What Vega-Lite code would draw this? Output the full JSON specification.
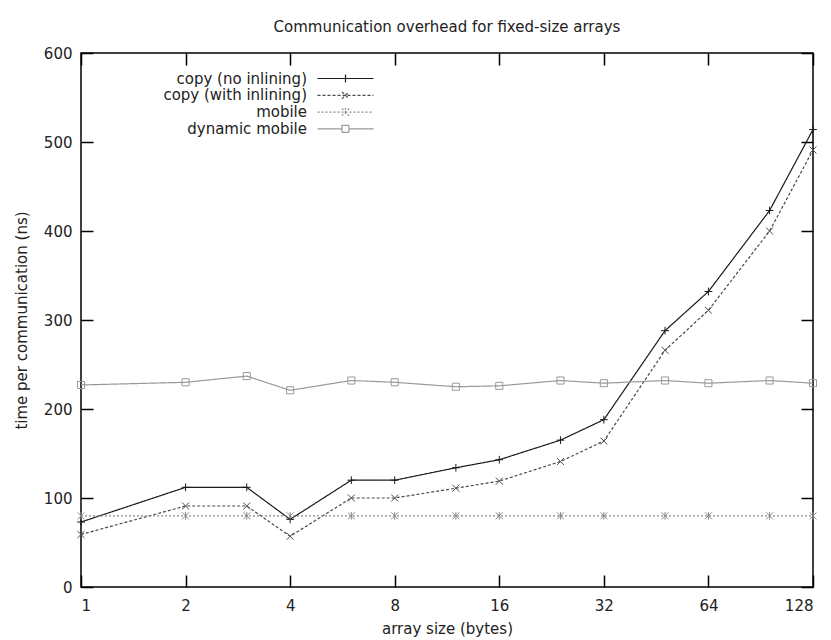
{
  "$schema": "https://vega.github.io/schema/vega-lite/v6.json",
  "width": 732,
  "height": 534,
  "autosize": "none",
  "padding": {"left": 81, "top": 53, "right": 18, "bottom": 53},
  "background": "white",
  "config": {
    "font": "DejaVu Sans",
    "view": {"stroke": "#000", "strokeWidth": 1.5},
    "axis": {"grid": false, "domain": false, "tickColor": "#000", "tickWidth": 1.5, "tickSize": -12, "labelPadding": 21, "labelFontSize": 15, "labelColor": "#222", "labelFont": "DejaVu Sans", "titleFontSize": 15, "titleFontWeight": "normal", "titleColor": "#222", "titleFont": "DejaVu Sans"}
  },
  "title": {"text": "Communication overhead for fixed-size arrays", "fontSize": 15, "fontWeight": "normal", "color": "#222", "font": "DejaVu Sans", "offset": 11, "anchor": "middle"},
  "data": {"values": [
    {"series": "copy (no inlining)", "bytes": 1, "time": 73},
    {"series": "copy (no inlining)", "bytes": 2, "time": 112},
    {"series": "copy (no inlining)", "bytes": 3, "time": 112},
    {"series": "copy (no inlining)", "bytes": 4, "time": 76},
    {"series": "copy (no inlining)", "bytes": 6, "time": 120},
    {"series": "copy (no inlining)", "bytes": 8, "time": 120},
    {"series": "copy (no inlining)", "bytes": 12, "time": 134},
    {"series": "copy (no inlining)", "bytes": 16, "time": 143},
    {"series": "copy (no inlining)", "bytes": 24, "time": 165},
    {"series": "copy (no inlining)", "bytes": 32, "time": 188},
    {"series": "copy (no inlining)", "bytes": 48, "time": 288},
    {"series": "copy (no inlining)", "bytes": 64, "time": 332},
    {"series": "copy (no inlining)", "bytes": 96, "time": 423},
    {"series": "copy (no inlining)", "bytes": 128, "time": 514},
    {"series": "copy (with inlining)", "bytes": 1, "time": 59},
    {"series": "copy (with inlining)", "bytes": 2, "time": 91},
    {"series": "copy (with inlining)", "bytes": 3, "time": 91},
    {"series": "copy (with inlining)", "bytes": 4, "time": 57},
    {"series": "copy (with inlining)", "bytes": 6, "time": 100},
    {"series": "copy (with inlining)", "bytes": 8, "time": 100},
    {"series": "copy (with inlining)", "bytes": 12, "time": 111},
    {"series": "copy (with inlining)", "bytes": 16, "time": 119},
    {"series": "copy (with inlining)", "bytes": 24, "time": 141},
    {"series": "copy (with inlining)", "bytes": 32, "time": 164},
    {"series": "copy (with inlining)", "bytes": 48, "time": 266},
    {"series": "copy (with inlining)", "bytes": 64, "time": 311},
    {"series": "copy (with inlining)", "bytes": 96, "time": 400},
    {"series": "copy (with inlining)", "bytes": 128, "time": 491},
    {"series": "mobile", "bytes": 1, "time": 80},
    {"series": "mobile", "bytes": 2, "time": 80},
    {"series": "mobile", "bytes": 3, "time": 80},
    {"series": "mobile", "bytes": 4, "time": 80},
    {"series": "mobile", "bytes": 6, "time": 80},
    {"series": "mobile", "bytes": 8, "time": 80},
    {"series": "mobile", "bytes": 12, "time": 80},
    {"series": "mobile", "bytes": 16, "time": 80},
    {"series": "mobile", "bytes": 24, "time": 80},
    {"series": "mobile", "bytes": 32, "time": 80},
    {"series": "mobile", "bytes": 48, "time": 80},
    {"series": "mobile", "bytes": 64, "time": 80},
    {"series": "mobile", "bytes": 96, "time": 80},
    {"series": "mobile", "bytes": 128, "time": 80},
    {"series": "dynamic mobile", "bytes": 1, "time": 227},
    {"series": "dynamic mobile", "bytes": 2, "time": 230},
    {"series": "dynamic mobile", "bytes": 3, "time": 237},
    {"series": "dynamic mobile", "bytes": 4, "time": 221},
    {"series": "dynamic mobile", "bytes": 6, "time": 232},
    {"series": "dynamic mobile", "bytes": 8, "time": 230},
    {"series": "dynamic mobile", "bytes": 12, "time": 225},
    {"series": "dynamic mobile", "bytes": 16, "time": 226},
    {"series": "dynamic mobile", "bytes": 24, "time": 232},
    {"series": "dynamic mobile", "bytes": 32, "time": 229},
    {"series": "dynamic mobile", "bytes": 48, "time": 232},
    {"series": "dynamic mobile", "bytes": 64, "time": 229},
    {"series": "dynamic mobile", "bytes": 96, "time": 232},
    {"series": "dynamic mobile", "bytes": 128, "time": 229}
  ]},
  "resolve": {"axis": {"x": "independent", "y": "independent"}},
  "layer": [
    {
      "mark": {"type": "line", "strokeWidth": 1.2},
      "encoding": {
        "x": {"field": "bytes", "type": "quantitative", "scale": {"type": "log", "base": 2, "domain": [1, 128], "nice": false}, "axis": {"values": [1, 2, 4, 8, 16, 32, 64, 128], "title": "array size (bytes)", "titlePadding": 8, "labelPadding": 23}},
        "y": {"field": "time", "type": "quantitative", "scale": {"domain": [0, 600], "nice": false, "zero": true}, "axis": {"values": [0, 100, 200, 300, 400, 500, 600], "title": "time per communication (ns)", "titlePadding": 14}},
        "color": {"field": "series", "type": "nominal", "sort": null,
          "scale": {"domain": ["copy (no inlining)", "copy (with inlining)", "mobile", "dynamic mobile"], "range": ["#1a1a1a", "#4a4a4a", "#8a8a8a", "#999999"]},
          "legend": {"title": null, "orient": "none", "legendX": 257, "legendY": 18, "symbolType": "stroke", "symbolSize": 100, "symbolStrokeWidth": 1.2, "labelAlign": "right", "labelOffset": -46, "labelFontSize": 15, "labelColor": "#222", "labelFont": "DejaVu Sans", "labelLimit": 300, "rowPadding": 0.8, "padding": 0,
            "encode": {"symbols": {"update": {"shape": {"signal": "datum.value === 'copy (no inlining)' ? 'M-5.6,0H5.6M0,-0.8V0.8' : datum.value === 'copy (with inlining)' ? 'M-5.6,0H5.6M-0.7,-0.7L0.7,0.7M-0.7,0.7L0.7,-0.7' : datum.value === 'mobile' ? 'M-5.6,0H5.6M-0.7,-0.7L0.7,0.7M-0.7,0.7L0.7,-0.7M0,-0.8V0.8' : 'M-5.6,0H-0.7M0.7,0H5.6M-0.7,-0.7H0.7V0.7H-0.7Z'"}}}}}},
        "strokeDash": {"field": "series", "type": "nominal", "sort": null,
          "scale": {"domain": ["copy (no inlining)", "copy (with inlining)", "mobile", "dynamic mobile"], "range": [[1, 0], [3, 2], [2, 2], [1, 0]]},
          "legend": {"title": null, "orient": "none", "legendX": 257, "legendY": 18, "symbolType": "stroke", "symbolSize": 100, "symbolStrokeWidth": 1.2, "labelAlign": "right", "labelOffset": -46, "labelFontSize": 15, "labelColor": "#222", "labelFont": "DejaVu Sans", "labelLimit": 300, "rowPadding": 0.8, "padding": 0,
            "encode": {"symbols": {"update": {"shape": {"signal": "datum.value === 'copy (no inlining)' ? 'M-5.6,0H5.6M0,-0.8V0.8' : datum.value === 'copy (with inlining)' ? 'M-5.6,0H5.6M-0.7,-0.7L0.7,0.7M-0.7,0.7L0.7,-0.7' : datum.value === 'mobile' ? 'M-5.6,0H5.6M-0.7,-0.7L0.7,0.7M-0.7,0.7L0.7,-0.7M0,-0.8V0.8' : 'M-5.6,0H-0.7M0.7,0H5.6M-0.7,-0.7H0.7V0.7H-0.7Z'"}}}}}}
      }
    },
    {
      "transform": [{"filter": {"field": "series", "equal": "copy (no inlining)"}}],
      "mark": {"type": "point", "filled": false, "size": 60, "strokeWidth": 1, "opacity": 1, "color": "#1a1a1a", "shape": "M-1,0H1M0,-1V1"},
      "encoding": {
        "x": {"field": "bytes", "type": "quantitative", "scale": {"type": "log", "base": 2, "domain": [1, 128], "nice": false}, "axis": null},
        "y": {"field": "time", "type": "quantitative", "scale": {"domain": [0, 600], "nice": false}, "axis": null}
      }
    },
    {
      "transform": [{"filter": {"field": "series", "equal": "copy (with inlining)"}}],
      "mark": {"type": "point", "filled": false, "size": 60, "strokeWidth": 1, "opacity": 1, "color": "#4a4a4a", "shape": "M-0.9,-0.9L0.9,0.9M-0.9,0.9L0.9,-0.9"},
      "encoding": {
        "x": {"field": "bytes", "type": "quantitative", "scale": {"type": "log", "base": 2, "domain": [1, 128], "nice": false}, "axis": null},
        "y": {"field": "time", "type": "quantitative", "scale": {"domain": [0, 600], "nice": false}, "axis": null}
      }
    },
    {
      "transform": [{"filter": {"field": "series", "equal": "mobile"}}],
      "mark": {"type": "point", "filled": false, "size": 60, "strokeWidth": 1, "opacity": 1, "color": "#8a8a8a", "shape": "M-0.9,-0.9L0.9,0.9M-0.9,0.9L0.9,-0.9M0,-1V1"},
      "encoding": {
        "x": {"field": "bytes", "type": "quantitative", "scale": {"type": "log", "base": 2, "domain": [1, 128], "nice": false}, "axis": null},
        "y": {"field": "time", "type": "quantitative", "scale": {"domain": [0, 600], "nice": false}, "axis": null}
      }
    },
    {
      "transform": [{"filter": {"field": "series", "equal": "dynamic mobile"}}],
      "mark": {"type": "point", "filled": false, "size": 50, "strokeWidth": 1, "opacity": 1, "color": "#999999", "shape": "square"},
      "encoding": {
        "x": {"field": "bytes", "type": "quantitative", "scale": {"type": "log", "base": 2, "domain": [1, 128], "nice": false}, "axis": null},
        "y": {"field": "time", "type": "quantitative", "scale": {"domain": [0, 600], "nice": false}, "axis": null}
      }
    },
    {
      "mark": {"type": "point", "opacity": 0},
      "encoding": {
        "x": {"field": "bytes", "type": "quantitative", "scale": {"type": "log", "base": 2, "domain": [1, 128], "nice": false}, "axis": {"orient": "top", "values": [1, 2, 4, 8, 16, 32, 64, 128], "labels": false, "title": null}},
        "y": {"field": "time", "type": "quantitative", "scale": {"domain": [0, 600], "nice": false}, "axis": {"orient": "right", "values": [0, 100, 200, 300, 400, 500, 600], "labels": false, "title": null}}
      }
    }
  ]
}
